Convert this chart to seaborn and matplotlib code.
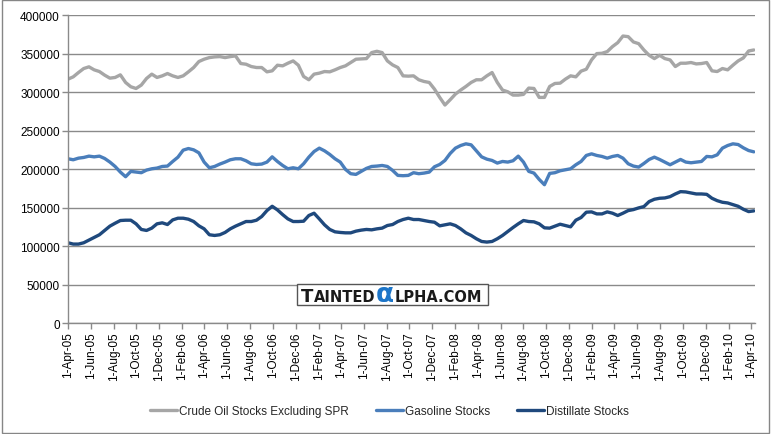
import pandas as pd
import seaborn as sns
import matplotlib.pyplot as plt
from matplotlib.patches import Rectangle

# fortnightly readings, 1-Apr-05 .. 9-Apr-10
dates = pd.date_range('2005-04-01', periods=132, freq='14D')

crude = [
    316800, 319800, 325400, 330600, 332800, 328900, 326700, 322000, 318100, 319000, 322400,
    312500, 306900, 304700, 309100, 317700, 323300, 319000, 321100, 324100, 321100, 319000,
    321100, 326300, 331900, 339700, 342700, 344800, 345700, 346100, 344800, 346100, 347000,
    337100, 336200, 333200, 331900, 331900, 326300, 327600, 334900, 334100, 337500, 340500,
    334900, 320300, 316000, 323300, 324600, 326700, 326300, 328900, 331900, 334100, 338400,
    342700, 343100, 343500, 351300, 353000, 351300, 340500, 335300, 331900, 321100, 320700,
    321100, 316000, 313800, 312500, 303900, 293100, 283200, 290100, 297400, 302600, 307300,
    312500, 316000, 316000, 321100, 325400, 312500, 302600, 300400, 296100, 296100, 297000,
    305200, 304700, 293100, 293100, 307300, 311200, 311600, 316800, 321100, 319800, 327200,
    329700, 341800, 350000, 350400, 352600, 359100, 364200, 372800, 372000, 365100, 362900,
    354700, 347800, 343500, 347800, 343500, 341800, 333200, 337500, 337500, 338400, 336600,
    337100, 338400, 327600, 326700, 330600, 328900, 334900, 340500, 344400, 353400, 354700,
]

gasoline = [
    213400, 212100, 214200, 215100, 216800, 215900, 216800, 213800, 209100, 203400, 196100,
    190100, 197000, 196100, 195300, 198700, 200400, 201300, 203400, 203900, 209900, 215500,
    224600, 226700, 225000, 221100, 209100, 201700, 203400, 206500, 209100, 212100, 213400,
    213400, 210800, 206900, 206000, 206500, 209100, 215900, 209900, 204700, 200400, 201700,
    200400, 206900, 215500, 222800, 227200, 223700, 219000, 213400, 209100, 199600, 194000,
    193100, 197000, 200900, 203400, 203900, 204700, 203400, 198300, 191800, 191400, 191800,
    195300, 194000, 194800, 196100, 203000, 206000, 211200, 220300, 227200, 230600, 232800,
    231500, 223700, 215900, 212900, 211200, 207800, 209900, 209100, 210800, 216800, 209100,
    197000, 194800, 186600, 179700, 194400, 195300, 197800, 199100, 200400, 205600, 209900,
    217700, 219800, 217700, 216400, 214200, 216400, 217700, 214200, 206900, 203900, 202600,
    207300, 212500, 215500, 212500, 209100, 205600, 209100, 212500, 209100, 208200, 209100,
    209900, 216400, 215900, 218500, 227200, 230600, 232800, 231900, 227600, 224100, 222400,
]

distillate = [
    104300, 102600, 102600, 104300, 107800, 111200, 114700, 120300, 125900, 129700, 133200,
    133600, 133600, 128900, 121600, 120300, 123300, 128900, 130200, 128000, 134000, 136200,
    136200, 134900, 131900, 126300, 122400, 114700, 113800, 114700, 117700, 122400, 125900,
    128900, 131900, 131900, 133600, 138400, 146100, 151700, 147000, 140900, 135300, 131900,
    131900, 132300, 139700, 142700, 135300, 127600, 121600, 118500, 117700, 117200, 117200,
    119400, 120700, 121600, 121100, 122400, 123300, 126700, 128000, 131900, 134500, 136200,
    134500, 134500, 133200, 131900, 131000, 126300, 127600, 128900, 126700, 122400, 117200,
    113800, 109500, 106000, 105200, 106000, 109500, 113800, 119000, 124100, 128900, 133200,
    131900, 131500, 128900, 123700, 123300, 125900, 128400, 126700, 125000, 133600, 137100,
    144000, 144400, 141800, 141800, 144400, 142700, 139700, 142700, 146100, 147400, 149600,
    151300, 157800, 160800, 162100, 162500, 164200, 167700, 170700, 170300, 169000, 167700,
    167700, 167200, 162100, 159000, 156900, 156000, 153900, 151700, 147800, 144800, 145700,
]

series_names = ['Crude Oil Stocks Excluding SPR', 'Gasoline Stocks', 'Distillate Stocks']
colors = ['#A6A6A6', '#4A7EBB', '#1F497D']

df = pd.DataFrame({'date': dates, series_names[0]: crude,
                   series_names[1]: gasoline, series_names[2]: distillate})
long_df = df.melt(id_vars='date', var_name='series', value_name='value')

sns.set_style('white')
plt.rcParams['font.family'] = ['Liberation Sans', 'DejaVu Sans']

fig = plt.figure(figsize=(7.71, 4.35), dpi=100)
ax = fig.add_axes([0.0882, 0.255, 0.891, 0.708])

sns.lineplot(data=long_df, x='date', y='value', hue='series', hue_order=series_names,
             palette=colors, linewidth=2.4, ax=ax, legend=False)

ax.set_ylim(0, 400000)
ax.set_yticks(range(0, 400001, 50000))
ax.set_yticklabels([str(v) for v in range(0, 400001, 50000)], fontsize=8.5)
ax.set_xlim(pd.Timestamp('2005-04-01'), pd.Timestamp('2010-04-12'))

tick_dates = pd.date_range('2005-04-01', '2010-04-01', freq='2MS')
ax.set_xticks(tick_dates)
ax.set_xticklabels([f"1-{d:%b-%y}" for d in tick_dates], rotation=90, fontsize=8.5)
ax.set_xlabel('')
ax.set_ylabel('')

ax.grid(axis='y', color='#8A8A8A', linewidth=1)
ax.set_axisbelow(True)
for side in ['top', 'right']:
    ax.spines[side].set_visible(False)
for side in ['left', 'bottom']:
    ax.spines[side].set_color('#8A8A8A')
    ax.spines[side].set_linewidth(1)
ax.tick_params(axis='both', direction='out', length=4, color='#8A8A8A', width=1,
               left=True, bottom=True, pad=2, labelcolor='black')

handles = ax.get_lines()[:3]
fig.legend(handles, series_names, loc='center', bbox_to_anchor=(0.505, 0.053), ncol=3,
           frameon=False, fontsize=8.5, handlelength=2.3, handletextpad=0.15,
           columnspacing=2.3)

# watermark box
fig.add_artist(Rectangle((297 / 771, 1 - 306 / 435), 191 / 771, 21 / 435,
                         transform=fig.transFigure, facecolor='white',
                         edgecolor='#555555', linewidth=1, zorder=5))
renderer = fig.canvas.get_renderer()
x_px = 301
base_px = 435 - 302
parts = [('T', 13, '#1a1a1a'), ('AINTED', 10.5, '#1a1a1a'), ('\u03b1', 19, '#1C75C8'),
         ('LPHA.COM', 10.5, '#1a1a1a')]
for txt, fs, col in parts:
    tx = fig.text(x_px / 771, base_px / 435, txt, fontsize=fs, fontweight='bold',
                  color=col, va='baseline', ha='left', zorder=6, family='DejaVu Sans')
    x_px = tx.get_window_extent(renderer).x1 + 0.5

# outer chart border
fig.add_artist(Rectangle((0.002, 0.003), 0.996, 0.994, transform=fig.transFigure,
                         fill=False, edgecolor='#868686', linewidth=1))

fig.savefig('out.png', dpi=100)
